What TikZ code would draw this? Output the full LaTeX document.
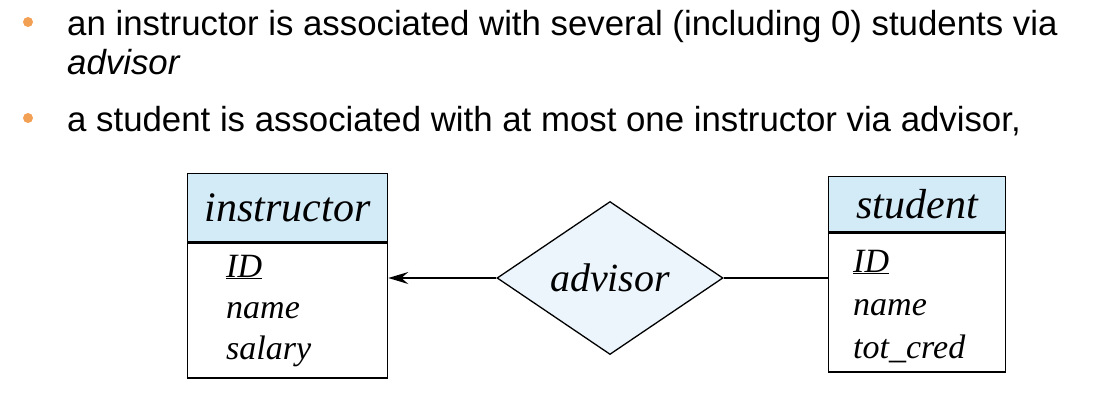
\documentclass[tikz,border=0pt]{standalone}
\usepackage{fontspec}
\usepackage{xcolor}
\usetikzlibrary{shapes.geometric,arrows.meta}
\newfontfamily\bulletfont{Liberation Sans}
\newfontfamily\erfont{Liberation Serif}

\definecolor{bulletorange}{RGB}{242,160,84}
\definecolor{headblue}{RGB}{211,234,247}
\definecolor{relblue}{RGB}{236,245,252}

\begin{document}
\begin{tikzpicture}[x=1pt, y=-1pt,
    bulletdot/.style={circle, fill=bulletorange, inner sep=0pt, minimum size=10pt},
    bullettext/.style={anchor=base west, inner sep=0pt, font=\bulletfont\fontsize{34.8}{40}\selectfont},
    enthead/.style={draw, fill=headblue, line width=1.3pt, anchor=north west, inner sep=0pt, font=\erfont\fontsize{42}{46}\selectfont\itshape},
    entbody/.style={draw, line width=1.3pt, anchor=north west, inner sep=0pt},
    attr/.style={anchor=base west, inner sep=0pt, font=\erfont\fontsize{34}{40}\selectfont\itshape},
    relship/.style={diamond, draw, fill=relblue, line width=1.3pt, inner sep=0pt, minimum width=226pt, minimum height=153pt, font=\erfont\fontsize{40}{44}\selectfont\itshape}]
    \useasboundingbox (0,0) rectangle (1119,418);

    % Bullets
    \node[bulletdot] (dot1) at (28,22) {};
    \node[bulletdot] (dot2) at (28,118) {};
    \node[bullettext] (line1) at (67,35) {an instructor is associated with several (including 0) students via};
    \node[bullettext] (line2) at (67,74) {\itshape advisor};
    \node[bullettext] (line3) at (67,131) {a student is associated with at most one instructor via advisor,};

    % Entity instructor
    \node[enthead, minimum width=200pt, minimum height=68pt] (insH) at (187,173) {instructor};
    \node[entbody, minimum width=200pt, minimum height=135pt] (insB) at (insH.south west) {};
    \node[attr] (insID) at (226,277) {\underline{ID}};
    \node[attr] (insName) at (226,318) {name};
    \node[attr] (insSal) at (226,359) {salary};

    % Entity student
    \node[enthead, minimum width=177pt, minimum height=55pt] (stuH) at (828,176) {student};
    \node[entbody, minimum width=177pt, minimum height=139pt] (stuB) at (stuH.south west) {};
    \node[attr] (stuID) at (853,272) {\underline{ID}};
    \node[attr] (stuName) at (853,315) {name};
    \node[attr] (stuCred) at (853,358) {tot\_cred};

    % Relationship advisor
    \node[relship] (adv) at (610,278) {advisor};

    % Connectors
    \draw[line width=1.3pt, -{Stealth[length=20pt, width=12pt, inset=7pt]}] (adv.west) -- (adv.west -| insB.east);
    \draw[line width=1.3pt] (adv.east) -- (adv.east -| stuB.west);
\end{tikzpicture}
\end{document}
